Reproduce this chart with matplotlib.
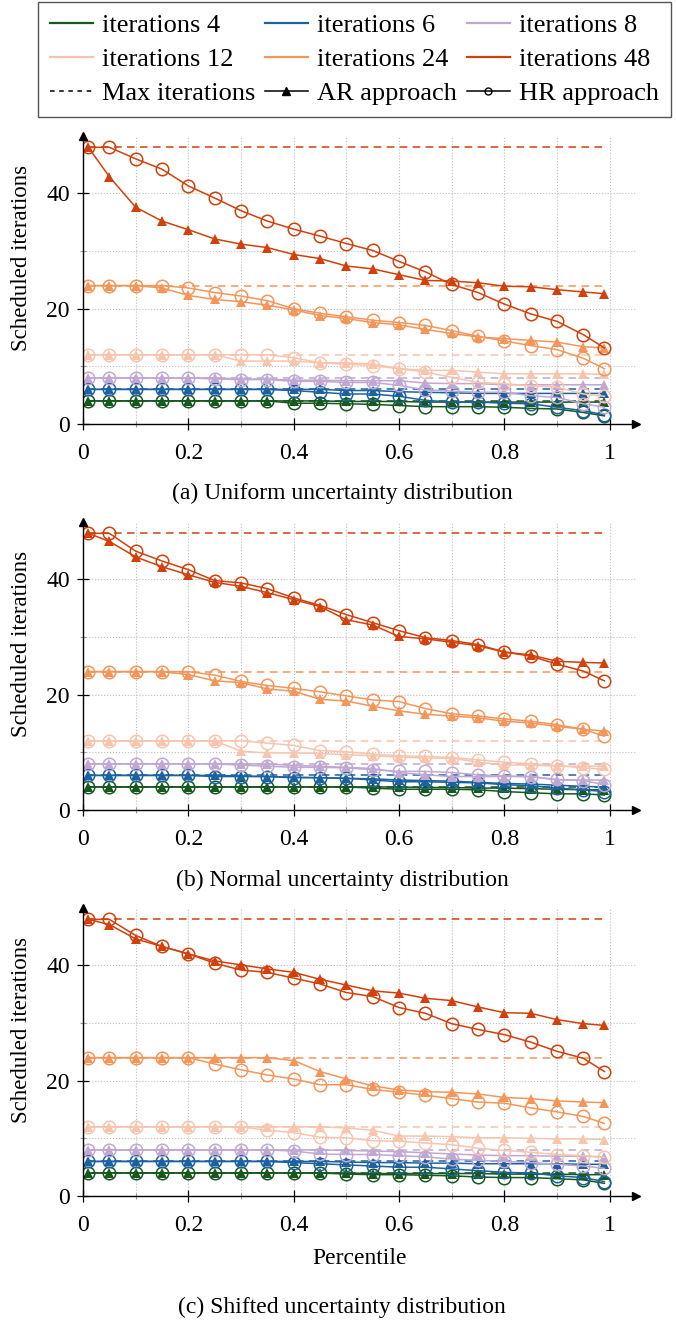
import matplotlib
matplotlib.use("Agg")
import matplotlib.pyplot as plt
from matplotlib.lines import Line2D
from matplotlib.ticker import MultipleLocator, FixedLocator, FuncFormatter

plt.rcParams['font.family'] = ['Liberation Serif', 'DejaVu Serif']
plt.rcParams['font.size'] = 17

# x positions (percentiles) shared by every series
percentiles = [0.01, 0.05, 0.1, 0.15, 0.2, 0.25, 0.3, 0.35, 0.4, 0.45, 0.5,
               0.55, 0.6, 0.65, 0.7, 0.75, 0.8, 0.85, 0.9, 0.95, 0.99]

iterations = [4, 6, 8, 12, 24, 48]
colors = ['#17581f', '#1d62a0', '#c0a8d2', '#f7c5ad', '#f4965a', '#d2400b']

# (a) uniform uncertainty distribution
uni_ar_4 = [4, 4, 4, 4, 4, 4, 4, 4, 4, 4, 3.9, 3.9, 3.9, 3.8, 3.8, 3.8, 3.8, 3.8, 3.8, 3.8, 3.8]
uni_hr_4 = [4, 4, 4, 4, 4, 4, 4, 4, 3.6, 3.6, 3.5, 3.4, 3.2, 3.0, 3.0, 3.0, 2.9, 2.7, 2.6, 2.0, 1.4]
uni_ar_6 = [6, 6, 6, 6, 6, 6, 6, 6, 6, 6, 5.8, 5.8, 5.6, 5.5, 5.4, 5.3, 5.3, 5.3, 5.3, 5.3, 5.3]
uni_hr_6 = [6, 6, 6, 6, 6, 6, 6, 6, 5.8, 5.5, 5.2, 5.2, 4.8, 4.1, 3.8, 3.8, 3.6, 3.5, 2.9, 2.3, 1.6]
uni_ar_8 = [8, 8, 8, 8, 8, 8, 7.8, 7.8, 7.6, 7.6, 7.5, 7.5, 7.5, 7.1, 7.0, 7.0, 6.8, 6.8, 6.8, 6.8, 6.8]
uni_hr_8 = [8, 8, 8, 8, 8, 7.8, 7.7, 7.7, 7.4, 7.4, 7.2, 7.2, 6.7, 5.9, 5.7, 5.5, 5.5, 4.9, 4.6, 3.5, 2.9]
uni_ar_12 = [12, 12, 12, 12, 12, 12, 10.9, 10.9, 10.9, 10.6, 10.6, 10.4, 9.6, 9.3, 9.3, 9.0, 8.7, 8.7, 8.7, 8.7, 8.6]
uni_hr_12 = [12, 12, 12, 12, 12, 12, 12, 12, 11.5, 10.6, 10.4, 10.1, 9.6, 9.0, 8.1, 7.2, 7.0, 6.6, 6.4, 5.2, 4.8]
uni_ar_24 = [24, 24, 24, 23.6, 22.3, 21.6, 21.2, 20.6, 19.8, 18.8, 18.3, 17.6, 17.2, 16.4, 15.7, 15.1, 14.8, 14.5, 14.2, 13.4, 13.2]
uni_hr_24 = [24, 24, 24, 24, 23.6, 22.8, 22.2, 21.4, 20.0, 19.2, 18.6, 18.0, 17.6, 17.1, 16.2, 15.2, 14.4, 13.6, 12.9, 11.4, 9.6]
uni_ar_48 = [48, 42.9, 37.6, 35.2, 33.7, 32.1, 31.2, 30.6, 29.4, 28.7, 27.4, 26.9, 25.9, 24.9, 24.8, 24.5, 23.9, 23.8, 23.3, 22.9, 22.6]
uni_hr_48 = [48, 48, 46.0, 44.2, 41.3, 39.2, 37.0, 35.2, 33.8, 32.6, 31.3, 30.1, 28.2, 26.4, 24.2, 22.8, 20.8, 19.1, 17.8, 15.5, 13.2]

# (b) normal uncertainty distribution
nor_ar_4 = [4, 4, 4, 4, 4, 4, 4, 4, 4, 4, 4, 4, 4, 3.9, 3.9, 3.8, 3.8, 3.7, 3.6, 3.5, 3.5]
nor_hr_4 = [4, 4, 4, 4, 4, 4, 4, 4, 4, 4, 4, 3.8, 3.6, 3.6, 3.6, 3.5, 3.2, 3.0, 2.8, 2.8, 2.6]
nor_ar_6 = [6, 6, 6, 6, 6, 6, 5.9, 5.8, 5.7, 5.6, 5.5, 5.4, 5.2, 5.1, 5.0, 4.8, 4.6, 4.5, 4.3, 4.1, 4.0]
nor_hr_6 = [6, 6, 6, 6, 6, 5.8, 5.8, 5.8, 5.6, 5.6, 5.5, 5.2, 4.9, 4.9, 4.8, 4.7, 4.4, 4.2, 3.8, 3.5, 3.2]
nor_ar_8 = [8, 8, 8, 8, 8, 8, 8, 8, 7.7, 7.6, 7.4, 7.2, 6.5, 6.1, 5.8, 5.8, 5.8, 5.8, 5.2, 5.2, 5.2]
nor_hr_8 = [8, 8, 8, 8, 8, 8, 7.8, 7.6, 7.4, 7.4, 7.3, 7.0, 6.7, 6.7, 6.5, 6.1, 5.9, 5.8, 5.3, 5.1, 4.4]
nor_ar_12 = [12, 12, 12, 12, 12, 12, 10.2, 9.9, 9.9, 9.8, 9.6, 9.4, 9.2, 9.0, 9.0, 8.3, 7.8, 7.8, 7.6, 7.6, 7.6]
nor_hr_12 = [12, 12, 12, 12, 12, 12, 12, 11.6, 11.2, 10.3, 10.1, 9.7, 9.4, 9.3, 9.1, 8.7, 8.3, 8.0, 7.7, 7.3, 7.1]
nor_ar_24 = [24, 24, 24, 24, 23.5, 22.4, 22.1, 21.0, 20.6, 19.2, 18.9, 18.0, 17.2, 16.6, 16.3, 16.0, 15.4, 15.1, 14.5, 14.0, 13.7]
nor_hr_24 = [24, 24, 24, 24, 24, 23.4, 22.3, 21.6, 21.1, 20.5, 19.8, 19.1, 18.8, 17.6, 16.7, 16.3, 15.8, 15.4, 14.8, 14.0, 12.8]
nor_ar_48 = [48, 46.6, 43.9, 42.2, 40.8, 39.5, 38.8, 37.7, 36.5, 35.3, 33.0, 32.1, 30.1, 29.7, 29.1, 28.5, 27.4, 26.9, 25.8, 25.6, 25.5]
nor_hr_48 = [48, 48, 44.9, 43.2, 41.7, 39.8, 39.4, 38.4, 36.8, 35.5, 33.9, 32.5, 31.1, 29.9, 29.4, 28.7, 27.4, 26.7, 25.3, 24.1, 22.4]

# (c) shifted uncertainty distribution
shi_ar_4 = [4, 4, 4, 4, 4, 4, 4, 4, 4, 4, 4, 3.9, 3.9, 3.9, 3.9, 3.9, 3.8, 3.8, 3.8, 3.7, 3.7]
shi_hr_4 = [4, 4, 4, 4, 4, 4, 4, 4, 4, 4, 3.8, 3.7, 3.7, 3.6, 3.5, 3.3, 3.2, 3.2, 3.0, 2.8, 2.2]
shi_ar_6 = [6, 6, 6, 6, 6, 6, 6, 6, 6, 6, 5.9, 5.8, 5.8, 5.7, 5.7, 5.6, 5.6, 5.6, 5.6, 5.5, 5.5]
shi_hr_6 = [6, 6, 6, 6, 6, 6, 6, 6, 5.8, 5.6, 5.4, 5.2, 5.0, 5.0, 4.7, 4.4, 4.1, 4.0, 3.5, 3.2, 2.5]
shi_ar_8 = [8, 8, 8, 8, 8, 8, 8, 8, 8, 8, 7.9, 7.8, 7.7, 7.5, 7.3, 7.1, 7.0, 7.0, 6.9, 6.9, 6.8]
shi_hr_8 = [8, 8, 8, 8, 8, 8, 8, 8, 7.8, 7.3, 7.2, 7.2, 7.0, 6.8, 6.4, 6.2, 6.0, 5.8, 5.5, 5.2, 4.8]
shi_ar_12 = [12, 12, 12, 12, 12, 12, 12, 12, 12, 12, 11.8, 11.4, 10.4, 10.4, 10.3, 10.1, 10.1, 10.0, 9.9, 9.9, 9.8]
shi_hr_12 = [12, 12, 12, 12, 12, 12, 12, 11.4, 11.0, 10.2, 10.1, 9.6, 9.5, 9.2, 8.9, 8.3, 7.9, 7.6, 7.2, 7.0, 6.7]
shi_ar_24 = [24, 24, 24, 24, 24, 24, 24, 24, 23.5, 21.6, 20.3, 19.1, 18.4, 18.1, 18.0, 17.7, 17.1, 16.9, 16.5, 16.3, 16.2]
shi_hr_24 = [24, 24, 24, 24, 24, 22.9, 21.9, 21.0, 20.3, 19.3, 19.3, 18.5, 18.0, 17.5, 16.9, 16.3, 16.1, 15.3, 14.6, 13.8, 12.6]
shi_ar_48 = [48, 47.1, 44.6, 43.3, 42.0, 40.8, 40.1, 39.4, 38.8, 37.6, 36.6, 35.6, 35.2, 34.3, 33.9, 32.8, 31.8, 31.7, 30.6, 29.9, 29.6]
shi_hr_48 = [48, 48, 45.2, 43.3, 42.0, 40.4, 39.2, 38.8, 37.8, 36.8, 35.3, 34.6, 32.7, 31.7, 29.9, 28.9, 28.0, 26.7, 25.1, 23.9, 21.6]

captions = ['(a) Uniform uncertainty distribution',
            '(b) Normal uncertainty distribution',
            '(c) Shifted uncertainty distribution']

panels = [
    ([uni_ar_4, uni_ar_6, uni_ar_8, uni_ar_12, uni_ar_24, uni_ar_48],
     [uni_hr_4, uni_hr_6, uni_hr_8, uni_hr_12, uni_hr_24, uni_hr_48]),
    ([nor_ar_4, nor_ar_6, nor_ar_8, nor_ar_12, nor_ar_24, nor_ar_48],
     [nor_hr_4, nor_hr_6, nor_hr_8, nor_hr_12, nor_hr_24, nor_hr_48]),
    ([shi_ar_4, shi_ar_6, shi_ar_8, shi_ar_12, shi_ar_24, shi_ar_48],
     [shi_hr_4, shi_hr_6, shi_hr_8, shi_hr_12, shi_hr_24, shi_hr_48]),
]

fig = plt.figure(figsize=(6.76, 13.22), dpi=100)

bottoms = [0.6793, 0.3873, 0.0953]
caption_y = [0.627, 0.3343, 0.0113]

for k, (ar_list, hr_list) in enumerate(panels):
    ax = fig.add_axes([0.1228, bottoms[k], 0.818, 0.218])
    for it, col, ar, hr in zip(iterations, colors, ar_list, hr_list):
        ax.hlines(it, percentiles[0], percentiles[-1], colors=col, linestyles=(0, (5, 3.5)), linewidth=1.1)
        ax.plot(percentiles, ar, color=col, linewidth=1.1, marker='^', markersize=7.5,
                markeredgewidth=0)
        ax.plot(percentiles, hr, color=col, linewidth=1.1, marker='o', markersize=9,
                markerfacecolor='none', markeredgewidth=1.1)

    ax.set_xlim(0, 1.05)
    ax.set_ylim(0, 50)
    ax.xaxis.set_major_locator(MultipleLocator(0.2))
    ax.xaxis.set_minor_locator(FixedLocator([0.1, 0.3, 0.5, 0.7, 0.9]))
    ax.yaxis.set_major_locator(MultipleLocator(20))
    ax.yaxis.set_minor_locator(FixedLocator([10, 30]))
    ax.xaxis.set_major_formatter(FuncFormatter(lambda v, p: f'{v:g}'))
    ax.tick_params(which='major', direction='inout', length=9, width=0.9, labelsize=17)
    ax.tick_params(axis='x', which='major', pad=9)
    ax.tick_params(axis='y', which='major', pad=5)
    ax.tick_params(which='minor', direction='inout', length=4, width=0.8, color='#999999')
    ax.grid(which='both', linestyle=':', color='#bdbdbd', linewidth=0.8)
    ax.set_axisbelow(True)
    for side in ['top', 'right']:
        ax.spines[side].set_visible(False)
    for side in ['left', 'bottom']:
        ax.spines[side].set_linewidth(1.0)
    # arrow heads at the end of the axes
    ax.plot(1, 0, '>k', transform=ax.transAxes, clip_on=False, markersize=6)
    ax.plot(0, 1, '^k', transform=ax.transAxes, clip_on=False, markersize=6)

    ax.set_ylabel('Scheduled iterations', fontsize=16.5)
    ax.yaxis.set_label_coords(-0.093, 0.575)
    if k == 2:
        ax.set_xlabel('Percentile', fontsize=17, labelpad=9)
    fig.text(0.506, caption_y[k], captions[k], ha='center', va='center', fontsize=17)

# legend, row-major order as in the figure (matplotlib fills columns first)
handles = {}
for it, col in zip(iterations, colors):
    handles[f'iterations {it}'] = Line2D([], [], color=col, linewidth=1.6)
handles['Max iterations'] = Line2D([], [], color='black', linewidth=1.1, linestyle=(0, (3, 3)))
handles['AR approach'] = Line2D([], [], color='black', linewidth=1.1, marker='^', markersize=6)
handles['HR approach'] = Line2D([], [], color='black', linewidth=1.1, marker='o', markersize=5,
                                markerfacecolor='none')
order = ['iterations 4', 'iterations 12', 'Max iterations',
         'iterations 6', 'iterations 24', 'AR approach',
         'iterations 8', 'iterations 48', 'HR approach']
fig.legend([handles[n] for n in order], order, ncol=3, loc='upper center',
           bbox_to_anchor=(0.524, 0.9985), borderaxespad=0, frameon=True, fancybox=False,
           edgecolor='#555555', framealpha=1, fontsize=19, handlelength=1.63,
           handletextpad=0.34, columnspacing=0.38, labelspacing=0.39, borderpad=0.45)

fig.savefig('out.png', dpi=100)
